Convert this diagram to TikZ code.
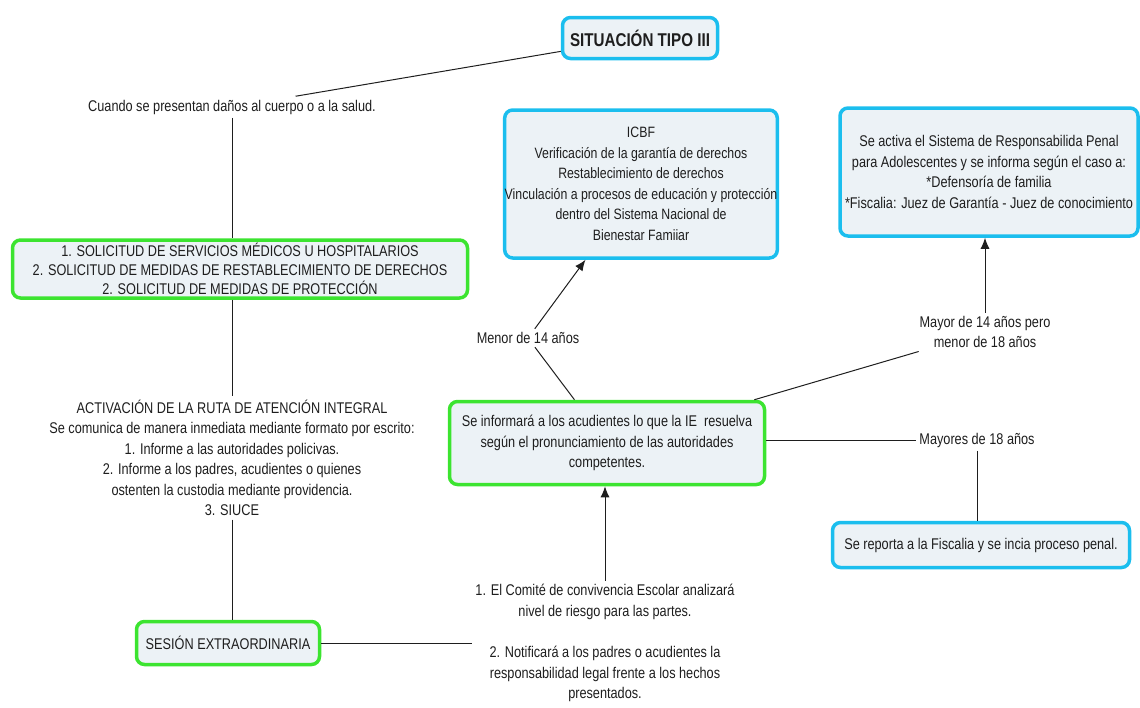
\documentclass[tikz,border=0pt]{standalone}
\usepackage{fontspec}
\setmainfont[FakeStretch=0.82]{Liberation Sans}
\usetikzlibrary{arrows.meta}
\definecolor{cyanline}{RGB}{27,190,238}
\definecolor{greenline}{RGB}{60,228,48}
\definecolor{boxfill}{RGB}{236,242,246}
\definecolor{inkgray}{RGB}{30,30,30}
\begin{document}
\begin{tikzpicture}[x=1pt,y=-1pt]
        \tikzset{
            every node/.style={text=inkgray,font=\fontsize{15.5}{20.5}\selectfont,align=center},
            bluebox/.style={draw=cyanline,line width=3.5pt,rounded corners=8pt,fill=boxfill,inner sep=2pt},
            greenbox/.style={draw=greenline,line width=3.5pt,rounded corners=8pt,fill=boxfill,inner sep=2pt},
            link/.style={draw=inkgray,line width=1pt},
            arrowlink/.style={link,-{Latex[length=11pt,width=9pt]}},
        }
        \useasboundingbox (0,0) rectangle (1140,707);

        \node[bluebox,minimum width=155pt,minimum height=41pt,font=\fontsize{18.5}{20}\bfseries] (tipo) at(640,38) {SITUACIÓN TIPO III};
        \node (cuando) at(232,107) {Cuando se presentan daños al cuerpo o a la salud.};
        \node[greenbox,minimum width=455pt,minimum height=58pt,font=\fontsize{15.5}{19}\selectfont] (solicitud) at(240,269) {1. SOLICITUD DE SERVICIOS MÉDICOS U HOSPITALARIOS\\2. SOLICITUD DE MEDIDAS DE RESTABLECIMIENTO DE DERECHOS\\2. SOLICITUD DE MEDIDAS DE PROTECCIÓN};
        \node (ruta) at(232,458) {ACTIVACIÓN DE LA RUTA DE ATENCIÓN INTEGRAL\\Se comunica de manera inmediata mediante formato por escrito:\\1. Informe a las autoridades policivas.\\2. Informe a los padres, acudientes o quienes\\ostenten la custodia mediante providencia.\\3. SIUCE};
        \node[greenbox,minimum width=183pt,minimum height=43pt] (sesion) at(228,643) {SESIÓN EXTRAORDINARIA};
        \node (comite) at(605,643) {1. El Comité de convivencia Escolar analizará\\nivel de riesgo para las partes.\\[21pt]2. Notificará a los padres o acudientes la\\responsabilidad legal frente a los hechos\\presentados.};
        \node[greenbox,minimum width=315pt,minimum height=83pt] (informa) at(607,443) {Se informará a los acudientes lo que la IE\ \ resuelva\\según el pronunciamiento de las autoridades\\competentes.};
        \node (menor) at(528,338) {Menor de 14 años};
        \node[bluebox,minimum width=272pt,minimum height=148pt,inner xsep=0pt,font=\fontsize{15}{20.5}\selectfont] (icbf) at(641,184) {ICBF\\Verificación de la garantía de derechos\\Restablecimiento de derechos\\Vinculación a procesos de educación y protección\\dentro del Sistema Nacional de\\Bienestar Famiiar};
        \node (mayor) at(985,332) {Mayor de 14 años pero\\menor de 18 años};
        \node[bluebox,minimum width=298pt,minimum height=128pt] (penal) at(989,172) {Se activa el Sistema de Responsabilida Penal\\para Adolescentes y se informa según el caso a:\\*Defensoría de familia\\*Fiscalia: Juez de Garantía - Juez de conocimiento};
        \node (mayores) at(977,440) {Mayores de 18 años};
        \node[bluebox,minimum width=297pt,minimum height=45pt] (fiscalia) at(981,545) {Se reporta a la Fiscalia y se incia proceso penal.};

        \draw[link] (tipo) -- (cuando);
        \draw[link] (cuando) -- (cuando |- solicitud.north);
        \draw[link] (ruta |- solicitud.south) -- (ruta);
        \draw[link] (ruta) -- (ruta |- sesion.north);
        \draw[link] (sesion) -- (comite);
        \draw[arrowlink] (comite) -- (comite |- informa.south);
        \draw[link] (informa) -- (menor);
        \draw[arrowlink] (menor) -- (icbf);
        \draw[link] (informa) -- (mayor);
        \draw[arrowlink] (mayor) -- (mayor |- penal.south);
        \draw[link] (informa.east |- mayores) -- (mayores);
        \draw[link] (mayores) -- (mayores |- fiscalia.north);
    \end{tikzpicture}
\end{document}
